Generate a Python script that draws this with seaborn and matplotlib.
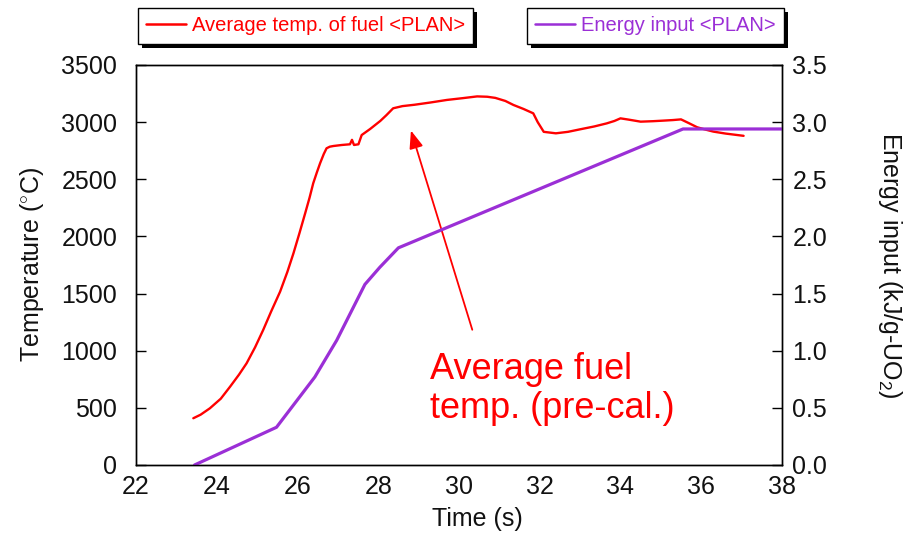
import matplotlib
matplotlib.use("Agg")
import matplotlib.pyplot as plt
import seaborn as sns
import pandas as pd
from matplotlib.lines import Line2D
from matplotlib.patches import Rectangle

# Average fuel temperature (pre-calculation)
temp_time = [23.42, 23.6, 23.83, 24.1, 24.33, 24.55, 24.74, 24.95, 25.15, 25.35,
             25.57, 25.75, 25.9, 26.05, 26.19, 26.3, 26.39, 26.48, 26.56, 26.65,
             26.72, 26.8, 26.89, 27.1, 27.3, 27.35, 27.4, 27.51, 27.59, 27.8,
             28.05, 28.2, 28.37, 28.6, 28.9, 29.3, 29.7, 30.1, 30.45, 30.7,
             30.9, 31.15, 31.35, 31.6, 31.84, 31.95, 32.1, 32.4, 32.7, 33.0,
             33.35, 33.66, 33.85, 34.0, 34.2, 34.5, 34.8, 35.06, 35.3, 35.5,
             35.7, 35.9, 36.1, 36.3, 36.6, 37.05]
temp_val = [409, 440, 496, 580, 685, 790, 890, 1030, 1181, 1345,
            1517, 1690, 1852, 2030, 2202, 2340, 2465, 2560, 2640, 2720,
            2771, 2785, 2791, 2800, 2806, 2845, 2800, 2806, 2887, 2940,
            3010, 3060, 3121, 3140, 3152, 3172, 3194, 3210, 3225, 3222,
            3212, 3185, 3150, 3115, 3077, 3000, 2915, 2902, 2915, 2937,
            2962, 2989, 3010, 3033, 3022, 3004, 3008, 3013, 3018, 3024,
            2990, 2955, 2935, 2917, 2900, 2880]

# Planned energy input
energy_time = [23.45, 25.48, 26.43, 26.97, 27.67, 28.04, 28.5, 35.55, 38.0]
energy_val = [0.0, 0.33, 0.77, 1.09, 1.58, 1.73, 1.90, 2.94, 2.94]

x_ticks = [22, 24, 26, 28, 30, 32, 34, 36, 38]
temp_ticks = [0, 500, 1000, 1500, 2000, 2500, 3000, 3500]
energy_ticks = [0.0, 0.5, 1.0, 1.5, 2.0, 2.5, 3.0, 3.5]

RED = "#FF0000"
PURPLE = "#9B2FD6"
INK = "#111111"

sns.set_theme(style="white")
plt.rcParams["font.family"] = ["Liberation Sans", "DejaVu Sans"]
plt.rcParams["mathtext.fontset"] = "custom"
plt.rcParams["mathtext.rm"] = "Liberation Sans"

fig = plt.figure(figsize=(9.22, 5.33), dpi=100)
ax = fig.add_axes([0.1475, 0.1276, 0.7006, 0.7505])
ax2 = ax.twinx()

df_t = pd.DataFrame({"t": temp_time, "T": temp_val})
df_e = pd.DataFrame({"t": energy_time, "E": energy_val})
sns.lineplot(data=df_t, x="t", y="T", ax=ax, color=RED, lw=1.7, sort=False)
sns.lineplot(data=df_e, x="t", y="E", ax=ax2, color=PURPLE, lw=2.3, sort=False)

ax.set_xlim(22, 38)
ax.set_ylim(0, 3500)
ax2.set_ylim(0, 3.5)
ax.set_xticks(x_ticks)
ax.set_yticks(temp_ticks)
ax2.set_yticks(energy_ticks)
ax2.set_yticklabels([f"{v:.1f}" for v in energy_ticks])

fs = 18
ax.tick_params(axis="x", direction="in", length=7, width=1, color="black",
               labelsize=fs, labelcolor=INK, top=False, pad=7)
ax.tick_params(axis="y", direction="in", length=7, width=1, color="black",
               labelsize=fs, labelcolor=INK, right=False, pad=13.5)
ax2.tick_params(axis="y", direction="in", length=7, width=1, color="black",
                labelsize=fs, labelcolor=INK, pad=7.5)
for a in (ax, ax2):
    for s in a.spines.values():
        s.set_color("black")
        s.set_linewidth(1)

ax.set_xlabel("Time (s)", fontsize=fs, color=INK, va="top")
ax.xaxis.set_label_coords(0.529, -0.105)
ax.set_ylabel("Temperature ($^{\\circ}$C)", fontsize=fs, color=INK, labelpad=11)
ax2.set_ylabel("Energy input (kJ/g-UO$_2$)", fontsize=fs, color=INK,
               rotation=-90, labelpad=55)

# Annotation with arrow
ax.annotate("", xy=(28.79, 2950), xytext=(30.35, 1160),
            arrowprops=dict(arrowstyle="-|>,head_length=0.9,head_width=0.35",
                            color=RED, lw=1.3))
ax.text(29.28, 985, "Average fuel\ntemp. (pre-cal.)", color=RED, fontsize=26,
        ha="left", va="top", linespacing=1.12)

# Two separate legend boxes
h1 = [Line2D([], [], color=RED, lw=1.8)]
h2 = [Line2D([], [], color=PURPLE, lw=1.8)]
common = dict(loc="upper left", fontsize=14.5, frameon=True, fancybox=False,
              shadow=False, edgecolor="black", framealpha=1, handlelength=1.95,
              borderpad=0.42, handletextpad=0.3, borderaxespad=0)
leg1 = fig.legend(h1, ["Average temp. of fuel <PLAN>"],
                  bbox_to_anchor=(138 / 922, 1 - 8 / 533), labelcolor=RED, **common)
leg2 = fig.legend(h2, ["Energy input <PLAN>"],
                  bbox_to_anchor=(527 / 922, 1 - 8 / 533), labelcolor=PURPLE, **common)
for lg in (leg1, leg2):
    lg.get_frame().set_linewidth(1)
    lg.set_zorder(5)

# Solid drop shadows behind the legend boxes
fig.canvas.draw()
W, H = fig.bbox.width, fig.bbox.height
for lg in (leg1, leg2):
    bb = lg.get_frame().get_window_extent()
    fig.patches.append(Rectangle(((bb.x0 + 4) / W, (bb.y0 - 4) / H),
                                 bb.width / W, bb.height / H,
                                 transform=fig.transFigure, facecolor="black",
                                 edgecolor="none", zorder=4))

fig.savefig("out.png", dpi=100, facecolor="white")
